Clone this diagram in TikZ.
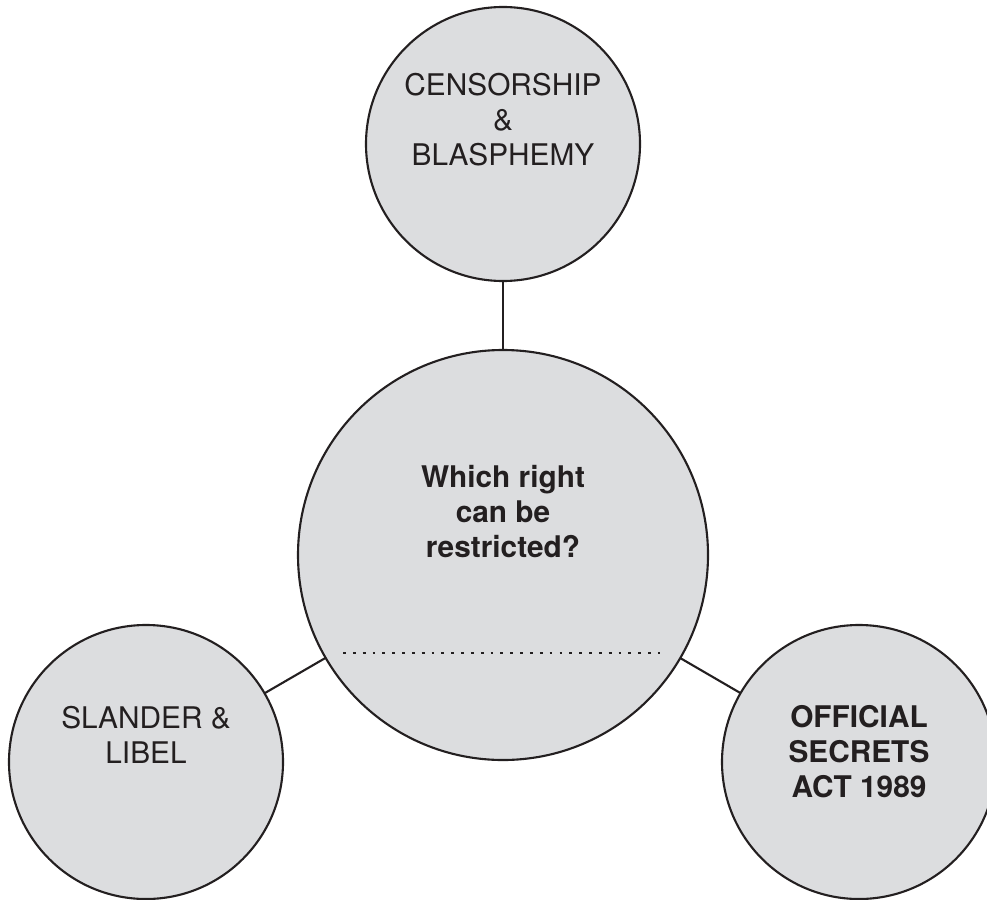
\documentclass[tikz,border=0pt]{standalone}
\usepackage{fontspec}
\setmainfont{TeX Gyre Heros}
\usetikzlibrary{positioning}
\definecolor{discgray}{RGB}{220,221,223}
\definecolor{inkdark}{RGB}{35,31,32}

\tikzset{
	disc/.style={circle, draw=inkdark, line width=1.5pt, fill=discgray, inner sep=0pt, outer sep=0pt},
	disclabel/.style={align=center, inner sep=0pt, text=inkdark, font=\fontsize{21.2}{24.9}\selectfont},
	boldlabel/.style={disclabel, font=\fontsize{21.2}{24.9}\selectfont\bfseries},
	link/.style={draw=inkdark, line width=1.5pt},
	dotrule/.style={draw=inkdark, line width=2pt, dash pattern=on 2pt off 5pt}
}

\begin{document}
\begin{tikzpicture}[x=0.25mm, y=-0.25mm]
	\useasboundingbox (0,0) rectangle (987,899);
	% Circles %
	\node (censorship) [disc, minimum size=68.5mm] at (503,144) {};
	\node (question) [disc, minimum size=102.5mm] at (503,555) {};
	\node (slander) [disc, minimum size=68.5mm] at (146,762) {};
	\node (secrets) [disc, minimum size=68.5mm] at (859,762) {};
	% Links %
	\draw [link] (censorship) -- (question);
	\draw [link] (slander) -- (question);
	\draw [link] (secrets) -- (question);
	% Texts %
	\node (censorshiptext) [disclabel] at (503,120) {CENSORSHIP\\\&\\BLASPHEMY};
	\node (questiontext) [boldlabel] at (503,512) {Which right\\can be\\restricted?};
	\node (slandertext) [disclabel] at (146,735) {SLANDER \&\\LIBEL};
	\node (secretstext) [boldlabel] at (859,752) {OFFICIAL\\SECRETS\\ACT 1989};
	% Answer line %
	\coordinate (dotstart) at (343,653);
	\coordinate (dotend) at (660,653);
	\draw [dotrule] (dotstart) -- (dotend);
\end{tikzpicture}
\end{document}
